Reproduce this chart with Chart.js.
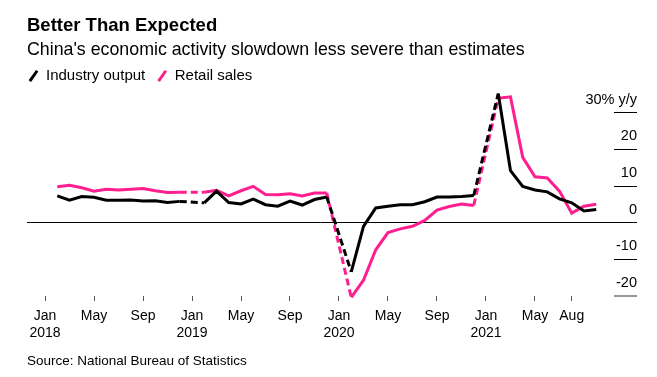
<!DOCTYPE html>
<html>
<head>
<meta charset="utf-8">
<script src="https://cdn.jsdelivr.net/npm/chart.js@4"></script>
<style>
  html, body { margin: 0; background: #fff; }
  #wrap { width: 657px; height: 377px; }
</style>
</head>
<body>
<div id="wrap"><canvas id="chart" width="657" height="377"></canvas></div>
<script>
Chart.defaults.font.family = "'Liberation Sans', Arial, sans-serif";
Chart.defaults.color = '#000';

// y/y % change. Jan and Feb are reported together, so there is no January point
const months = [
  '2018-02', '2018-03', '2018-04', '2018-05', '2018-06', '2018-07', '2018-08', '2018-09', '2018-10', '2018-11', '2018-12',
  '2019-02', '2019-03', '2019-04', '2019-05', '2019-06', '2019-07', '2019-08', '2019-09', '2019-10', '2019-11', '2019-12',
  '2020-02', '2020-03', '2020-04', '2020-05', '2020-06', '2020-07', '2020-08', '2020-09', '2020-10', '2020-11', '2020-12',
  '2021-02', '2021-03', '2021-04', '2021-05', '2021-06', '2021-07', '2021-08', '2021-09', '2021-10',
];
const industryOutput = [
  7.2, 6.0, 7.0, 6.8, 6.0, 6.0, 6.1, 5.8, 5.9, 5.4, 5.7,
  5.3, 8.5, 5.4, 5.0, 6.3, 4.8, 4.4, 5.8, 4.7, 6.2, 6.9,
  -13.5, -1.1, 3.9, 4.4, 4.8, 4.8, 5.6, 6.9, 6.9, 7.0, 7.3,
  35.1, 14.1, 9.8, 8.8, 8.3, 6.4, 5.3, 3.1, 3.5,
];
const retailSales = [
  9.7, 10.1, 9.4, 8.5, 9.0, 8.8, 9.0, 9.2, 8.6, 8.1, 8.2,
  8.2, 8.7, 7.2, 8.6, 9.8, 7.6, 7.5, 7.8, 7.2, 8.0, 8.0,
  -20.5, -15.8, -7.5, -2.8, -1.8, -1.1, 0.5, 3.3, 4.3, 5.0, 4.6,
  33.8, 34.2, 17.7, 12.4, 12.1, 8.5, 2.5, 4.4, 4.9,
];

// x ticks, in months since Jan 2018
const xTickMonths = [0, 4, 8, 12, 16, 20, 24, 28, 32, 36, 40, 43];
const xTickLabels = [
  ['Jan', '2018'], 'May', 'Sep', ['Jan', '2019'], 'May', 'Sep',
  ['Jan', '2020'], 'May', 'Sep', ['Jan', '2021'], 'May', 'Aug',
];
const yTickValues = [-20, -10, 0, 10, 20, 30];

const PINK = '#ff1e90';

function monthIndex(m) {
  const [y, mo] = m.split('-').map(Number);
  return (y - 2018) * 12 + mo - 1;
}
const toPoints = vals => vals.map((v, i) => ({ x: monthIndex(months[i]), y: v }));

// dashed where the line jumps over the missing January
const gapDash = ctx => (ctx.p1.parsed.x - ctx.p0.parsed.x > 1 ? [7, 4] : undefined);

// legend boxes carry their own padding; pull them back to the title's edge
const legendShift = {
  id: 'legendShift',
  afterLayout(chart) {
    chart.legend.left -= 10.5;
    chart.legend.top -= 4.5;
  },
};

// short rules under each y label, on the right of the plot
const yTickMarks = {
  id: 'yTickMarks',
  afterDraw(chart) {
    const s = chart.scales.y, ctx = chart.ctx;
    ctx.save();
    yTickValues.forEach(v => {
      const y = Math.round(s.getPixelForValue(v));
      ctx.fillStyle = v === -20 ? '#9a9a9a' : '#000';
      ctx.fillRect(s.left, v === -20 ? y - 1 : y, s.right - s.left, v === -20 ? 2 : 1);
    });
    ctx.restore();
  },
};

new Chart(document.getElementById('chart'), {
  type: 'line',
  data: {
    datasets: [
      {
        label: 'Industry output', data: toPoints(industryOutput),
        borderColor: '#000', backgroundColor: '#000', borderWidth: 3,
        pointRadius: 0, tension: 0, clip: false,
        segment: { borderDash: gapDash },
      },
      {
        label: 'Retail sales', data: toPoints(retailSales),
        borderColor: PINK, backgroundColor: PINK, borderWidth: 3,
        pointRadius: 0, tension: 0, clip: false,
        segment: { borderDash: gapDash },
      },
    ],
  },
  options: {
    responsive: false,
    animation: false,
    devicePixelRatio: 1,
    layout: { padding: { left: 27, right: 20, top: 0, bottom: 8 } },
    plugins: {
      title: {
        display: true, text: 'Better Than Expected', align: 'start',
        font: { size: 18.5, weight: 'bold' }, padding: { top: 15, bottom: 0 },
      },
      subtitle: {
        display: true, text: "China's economic activity slowdown less severe than estimates",
        align: 'start', font: { size: 17.8 }, padding: { top: 2.4, bottom: 0 },
      },
      legend: {
        align: 'start',
        labels: {
          usePointStyle: true, boxWidth: 10, boxHeight: 9, padding: 12,
          font: { size: 15 },
          generateLabels: chart => Chart.defaults.plugins.legend.labels.generateLabels(chart)
            .map(l => ({ ...l, pointStyle: 'line', rotation: -55 })),
        },
      },
      tooltip: { enabled: false },
    },
    scales: {
      x: {
        type: 'linear', min: -1.47, max: 46.45,
        border: { display: false },
        grid: { drawOnChartArea: false, tickLength: 5, color: '#555' },
        afterBuildTicks: s => { s.ticks = xTickMonths.map(v => ({ value: v })); },
        ticks: {
          autoSkip: false, maxRotation: 0, padding: 6.6, font: { size: 14 },
          callback: (v, i) => xTickLabels[i],
        },
        title: {
          display: true, text: 'Source: National Bureau of Statistics', align: 'start',
          font: { size: 13.5 }, padding: { top: 5, bottom: 0 },
        },
      },
      y: {
        position: 'right', min: -20.1, max: 33.9,
        border: { display: false },
        afterBuildTicks: s => { s.ticks = yTickValues.map(v => ({ value: v })); },
        afterFit: s => { s.width = 23; },
        grid: {
          drawTicks: false, lineWidth: 1,
          color: c => (c.tick && c.tick.value === 0 ? '#000' : 'rgba(0,0,0,0)'),
        },
        ticks: {
          mirror: true, padding: 23, labelOffset: -12.5, font: { size: 14.5 },
          callback: v => (v === 30 ? '30% y/y' : String(v)),
        },
      },
    },
  },
  plugins: [legendShift, yTickMarks],
});
</script>
</body>
</html>
